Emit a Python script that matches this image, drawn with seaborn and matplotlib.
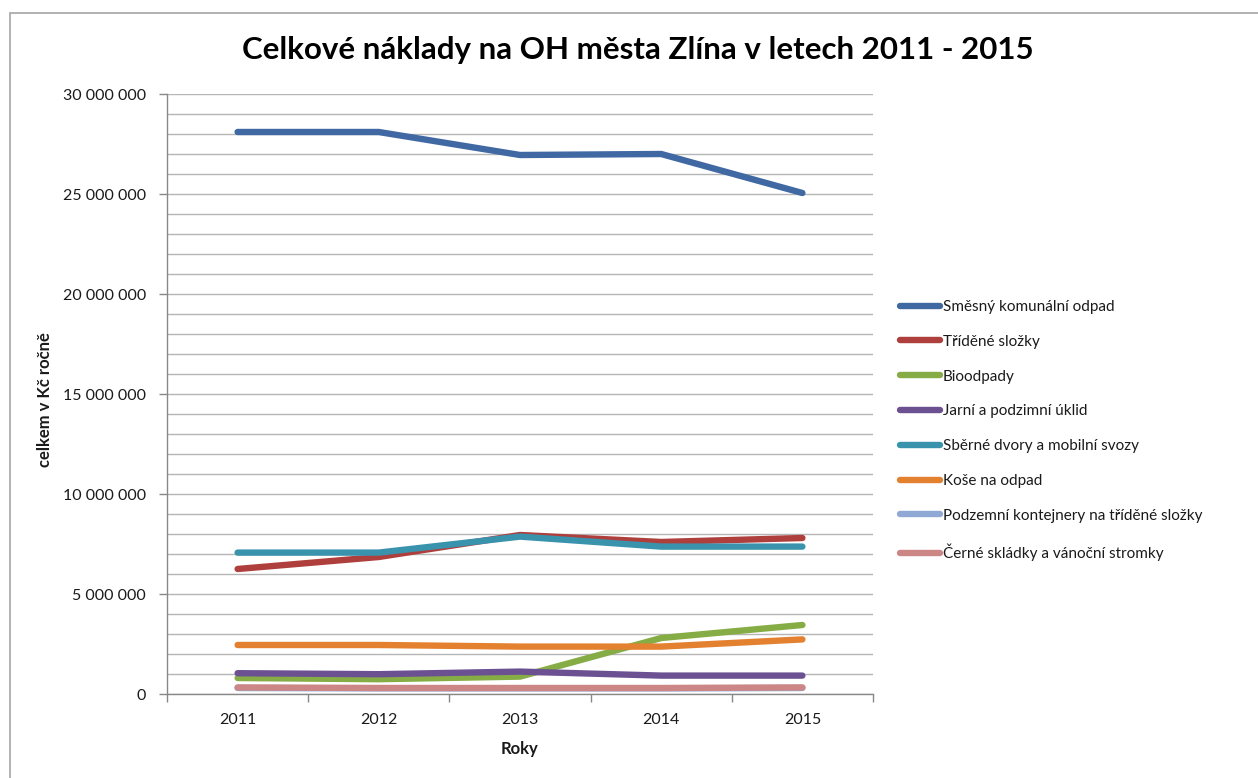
import matplotlib

matplotlib.use("Agg")

import matplotlib.pyplot as plt
import matplotlib.ticker as mticker
import pandas as pd
import seaborn as sns
from matplotlib.patches import Rectangle

YEARS = [2011, 2012, 2013, 2014, 2015]

SERIES = [
    "Směsný komunální odpad",
    "Tříděné složky",
    "Bioodpady",
    "Jarní a podzimní úklid",
    "Sběrné dvory a mobilní svozy",
    "Koše na odpad",
    "Podzemní kontejnery na tříděné složky",
    "Černé skládky a vánoční stromky",
]

# costs in CZK per year
SMESNY = [28_100_000, 28_100_000, 26_950_000, 27_000_000, 25_050_000]
TRIDENE = [6_250_000, 6_850_000, 7_950_000, 7_600_000, 7_800_000]
BIO = [800_000, 740_000, 870_000, 2_800_000, 3_450_000]
JARNI = [1_040_000, 990_000, 1_120_000, 920_000, 920_000]
SBERNE = [7_070_000, 7_070_000, 7_870_000, 7_370_000, 7_370_000]
KOSE = [2_450_000, 2_450_000, 2_370_000, 2_370_000, 2_730_000]
PODZEMNI = [300_000, 280_000, 280_000, 280_000, 300_000]
CERNE = [330_000, 300_000, 300_000, 300_000, 330_000]

VALUES = [SMESNY, TRIDENE, BIO, JARNI, SBERNE, KOSE, PODZEMNI, CERNE]

COLORS = [
    "#4068A3",
    "#AE3F3C",
    "#86AC46",
    "#6B5192",
    "#3A93AD",
    "#E38130",
    "#8FA9D4",
    "#CC8686",
]

GRID = "#B5B5B5"
AXIS = "#888888"
TEXT = "#1A1A1A"


def build_frame() -> pd.DataFrame:
    rows = []
    for name, vals in zip(SERIES, VALUES):
        for year, v in zip(YEARS, vals):
            rows.append({"rok": year, "druh": name, "naklady": v})
    return pd.DataFrame(rows)


def main() -> None:
    sns.set_theme(style="white")
    plt.rcParams["font.family"] = ["Lato", "DejaVu Sans"]
    plt.rcParams["text.color"] = TEXT

    df = build_frame()

    W, H = 1258, 778
    fig = plt.figure(figsize=(W / 100, H / 100), dpi=100)
    fig.patches.append(
        Rectangle((10 / W, -0.1), 1.2, 1.1 - 13 / H, transform=fig.transFigure,
                  fill=False, edgecolor="#A6A6A6", linewidth=1.2)
    )
    ax = fig.add_axes([167 / W, 1 - 694 / H, 706 / W, 600 / H])

    sns.lineplot(
        data=df,
        x="rok",
        y="naklady",
        hue="druh",
        hue_order=SERIES,
        palette=COLORS,
        linewidth=4.6,
        solid_capstyle="round",
        solid_joinstyle="round",
        ax=ax,
    )

    ax.set_xlim(YEARS[0] - 0.5, YEARS[-1] + 0.5)
    ax.set_ylim(0, 30_000_000)

    ax.yaxis.set_major_locator(mticker.MultipleLocator(5_000_000))
    ax.yaxis.set_minor_locator(mticker.MultipleLocator(1_000_000))
    ax.yaxis.set_major_formatter(
        mticker.FuncFormatter(lambda v, _: f"{v:,.0f}".replace(",", " "))
    )
    ax.yaxis.grid(True, which="both", color=GRID, linewidth=1.0)
    ax.xaxis.grid(False)
    ax.set_axisbelow(True)

    ax.xaxis.set_major_locator(mticker.FixedLocator([y - 0.5 for y in YEARS] + [YEARS[-1] + 0.5]))
    ax.xaxis.set_major_formatter(mticker.NullFormatter())
    ax.xaxis.set_minor_locator(mticker.FixedLocator(YEARS))
    ax.xaxis.set_minor_formatter(mticker.FixedFormatter([str(y) for y in YEARS]))

    ax.tick_params(axis="y", which="major", direction="out", length=6, width=1,
                   color=AXIS, left=True, pad=9, labelsize=11.5, labelcolor=TEXT)
    ax.tick_params(axis="y", which="minor", length=0)
    ax.tick_params(axis="x", which="major", direction="out", length=6, width=1,
                   color=AXIS, bottom=True)
    ax.tick_params(axis="x", which="minor", length=0, pad=14, labelsize=11.5,
                   labelcolor=TEXT)

    for side in ["top", "right"]:
        ax.spines[side].set_visible(False)
    for side in ["left", "bottom"]:
        ax.spines[side].set_color(AXIS)
        ax.spines[side].set_linewidth(1.0)

    ax.set_ylabel("celkem v Kč ročně", fontsize=12, fontweight="bold", color=TEXT)
    ax.yaxis.set_label_coords(-0.162, 0.49)
    ax.set_xlabel("Roky", fontsize=12, fontweight="bold", color=TEXT, labelpad=10)

    fig.suptitle("Celkové náklady na OH města Zlína v letech 2011 - 2015",
                 x=0.507, y=1 - 50 / H, va="center", fontsize=22.5, fontweight="bold",
                 color="#000000")

    handles, labels = ax.get_legend_handles_labels()
    ax.legend(
        handles,
        labels,
        loc="upper left",
        bbox_to_anchor=(900 / W, 1 - 300 / H),
        bbox_transform=fig.transFigure,
        frameon=False,
        borderpad=0,
        borderaxespad=0,
        handlelength=2.6,
        handletextpad=0.2,
        labelspacing=1.36,
        fontsize=11,
    )

    fig.savefig("out.png", dpi=100)
    plt.close(fig)


if __name__ == "__main__":
    main()
